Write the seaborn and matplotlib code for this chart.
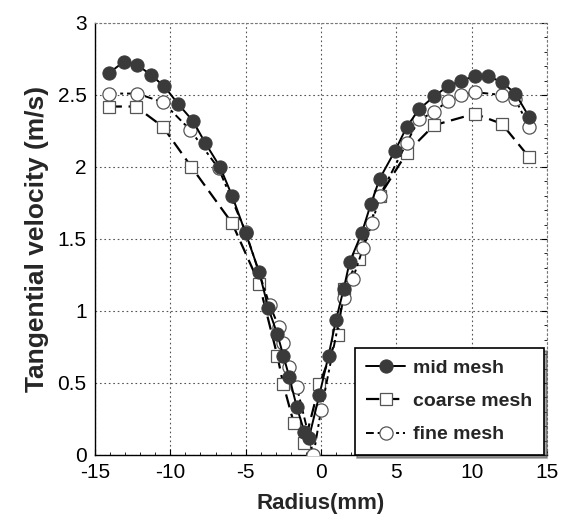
import numpy as np
import pandas as pd
import matplotlib
matplotlib.use("Agg")
import matplotlib.pyplot as plt
import seaborn as sns
from matplotlib.ticker import MultipleLocator

# ---- data ----
mid_x = [-14.1, -13.1, -12.2, -11.3, -10.4, -9.5, -8.5, -7.7, -6.7, -5.9, -5.0, -4.1,
         -3.5, -2.9, -2.5, -2.1, -1.6, -1.1, -0.8, -0.1, 0.5, 1.0, 1.5, 1.9, 2.7, 3.3,
         3.9, 4.9, 5.7, 6.5, 7.5, 8.4, 9.3, 10.2, 11.1, 12.0, 12.9, 13.8]
mid_y = [2.65, 2.73, 2.71, 2.64, 2.56, 2.44, 2.32, 2.17, 2.00, 1.80, 1.54, 1.27,
         1.02, 0.84, 0.69, 0.54, 0.33, 0.16, 0.12, 0.42, 0.69, 0.94, 1.15, 1.34, 1.54, 1.74,
         1.92, 2.11, 2.28, 2.40, 2.49, 2.56, 2.60, 2.63, 2.63, 2.59, 2.51, 2.35]

coarse_x = [-14.1, -12.3, -10.5, -8.6, -5.9, -4.1, -2.9, -2.5, -1.8, -1.1, -0.1,
            1.1, 1.5, 2.5, 3.9, 5.7, 7.5, 10.2, 12.0, 13.8]
coarse_y = [2.42, 2.42, 2.28, 2.00, 1.61, 1.19, 0.69, 0.49, 0.22, 0.08, 0.49,
            0.83, 1.15, 1.36, 1.80, 2.10, 2.29, 2.37, 2.30, 2.07]

fine_x = [-14.1, -12.2, -10.5, -8.7, -6.8, -5.0, -3.4, -2.8, -2.5, -2.1, -1.6, -0.5,
          0.0, 1.5, 2.1, 2.8, 3.4, 3.9, 5.7, 6.5, 7.5, 8.4, 9.3, 10.2, 12.0, 12.9, 13.8]
fine_y = [2.51, 2.51, 2.45, 2.26, 1.99, 1.55, 1.04, 0.89, 0.78, 0.61, 0.47, 0.00,
          0.31, 1.09, 1.22, 1.44, 1.61, 1.80, 2.17, 2.33, 2.38, 2.46, 2.50, 2.52, 2.50, 2.47, 2.28]

x_ticks = [-15, -10, -5, 0, 5, 10, 15]
y_ticks = [0, 0.5, 1, 1.5, 2, 2.5, 3]
y_tick_labels = ["0", "0.5", "1", "1.5", "2", "2.5", "3"]

sns.set_theme(style="white")
plt.rcParams['font.family'] = ['Liberation Sans', 'DejaVu Sans']

fig = plt.figure(figsize=(5.68, 5.26), dpi=100)
ax = fig.add_axes([95/568, 1-455/526, 452/568, 432/526])

df_mid = pd.DataFrame({"x": mid_x, "y": mid_y})
df_coarse = pd.DataFrame({"x": coarse_x, "y": coarse_y})
df_fine = pd.DataFrame({"x": fine_x, "y": fine_y})

sns.lineplot(data=df_mid, x="x", y="y", ax=ax, color="black", linewidth=1.4,
             marker="o", markersize=9.5, markerfacecolor="#3a3a3a",
             markeredgecolor="#3a3a3a", label="mid mesh", zorder=4)
sns.lineplot(data=df_coarse, x="x", y="y", ax=ax, color="black", linewidth=1.6,
             linestyle=(0, (6, 3)), marker="s", markersize=9,
             markerfacecolor="white", markeredgecolor="#555555", markeredgewidth=0.9,
             label="coarse mesh", zorder=3)
sns.lineplot(data=df_fine, x="x", y="y", ax=ax, color="black", linewidth=1.4,
             linestyle=(0, (4, 2, 1.5, 2)), marker="o", markersize=9.5,
             markerfacecolor="white", markeredgecolor="#555555", markeredgewidth=0.9,
             label="fine mesh", zorder=3)

ax.set_xlim(-15, 15)
ax.set_ylim(0, 3)
ax.set_xticks(x_ticks)
ax.set_xticklabels([str(t) for t in x_ticks])
ax.set_yticks(y_ticks)
ax.set_yticklabels(y_tick_labels)
ax.xaxis.set_minor_locator(MultipleLocator(1))
ax.yaxis.set_minor_locator(MultipleLocator(0.1))
ax.tick_params(axis="both", which="major", direction="in", length=4, width=0.8,
               labelsize=15, colors="black", pad=6)
ax.tick_params(axis="both", which="minor", direction="in", length=2.5, width=0.6,
               colors="black")
ax.tick_params(axis="y", which="both", right=True)
ax.tick_params(axis="x", which="both", bottom=True)

ax.grid(True, which="major", linestyle=(0, (1.5, 2.5)), color="#555555", linewidth=0.8)

for s in ["left", "bottom"]:
    ax.spines[s].set_color("black")
    ax.spines[s].set_linewidth(1.0)
for s in ["top", "right"]:
    ax.spines[s].set_color("#777777")
    ax.spines[s].set_linestyle((0, (1.5, 2.5)))
    ax.spines[s].set_linewidth(0.8)

ax.set_xlabel("Radius(mm)", fontsize=16, fontweight="bold", labelpad=8)
ax.set_ylabel("Tangential velocity (m/s)", fontsize=19, fontweight="bold", labelpad=6)

leg = ax.legend(loc="lower right", bbox_to_anchor=(0.993, 0.0), borderaxespad=0,
                frameon=True, fancybox=False, shadow=True, framealpha=1,
                edgecolor="black", prop={"weight": "bold", "size": 14},
                handlelength=2.0, labelspacing=0.8, borderpad=0.6, handletextpad=0.4)
leg.get_frame().set_linewidth(1.2)

fig.savefig("out.png", dpi=100)
